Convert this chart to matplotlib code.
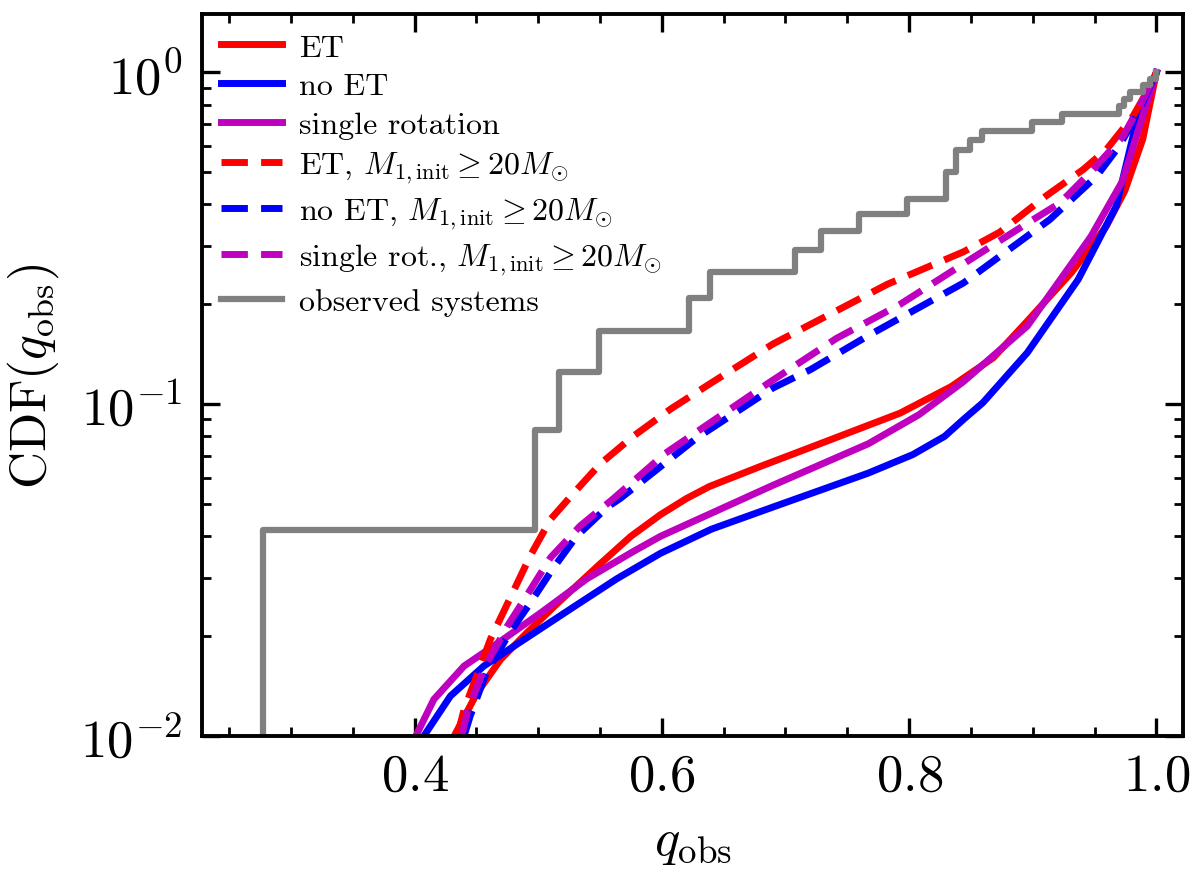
import numpy as np
import matplotlib
matplotlib.use('Agg')
import matplotlib.pyplot as plt
from matplotlib.ticker import MultipleLocator

plt.rcParams['font.family'] = 'serif'
plt.rcParams['font.serif'] = ['cmr10']
plt.rcParams['mathtext.fontset'] = 'cm'
plt.rcParams['axes.formatter.use_mathtext'] = True

# model CDFs (q, CDF)
q_et = [0.432, 0.4506, 0.4695, 0.491, 0.515, 0.550, 0.575, 0.599, 0.62, 0.6385, 0.68,
        0.7156, 0.7927, 0.834, 0.868, 0.8956, 0.9315, 0.9595, 0.9745, 0.989, 1.0]
c_et = [0.0100, 0.0135, 0.0170, 0.0205, 0.0250, 0.0330, 0.040, 0.0465, 0.052, 0.0565, 0.065,
        0.073, 0.094, 0.113, 0.138, 0.178, 0.25, 0.344, 0.44, 0.63, 1.0]

q_noet = [0.4075, 0.429, 0.456, 0.491, 0.5287, 0.5637, 0.5987, 0.640, 0.690, 0.767, 0.803,
          0.8287, 0.844, 0.8596, 0.8956, 0.9367, 0.9675, 0.983, 1.0]
c_noet = [0.010, 0.0132, 0.01625, 0.0198, 0.0245, 0.0298, 0.0355, 0.042, 0.049, 0.062, 0.0705,
          0.080, 0.090, 0.101, 0.143, 0.2375, 0.395, 0.687, 1.0]

q_rot = [0.401, 0.4156, 0.440, 0.4695, 0.502, 0.5395, 0.577, 0.599, 0.690, 0.767,
         0.808, 0.844, 0.8956, 0.947, 0.9725, 0.988, 1.0]
c_rot = [0.010, 0.0129, 0.01625, 0.0193, 0.0235, 0.0298, 0.036, 0.040, 0.057, 0.076,
         0.093, 0.117, 0.172, 0.32, 0.47, 0.72, 1.0]

q_et20 = [0.4345, 0.440, 0.4614, 0.4776, 0.4937, 0.510, 0.5287, 0.550, 0.5767, 0.6076,
          0.6385, 0.690, 0.7825, 0.844, 0.8733, 0.911, 0.9406, 0.9595, 0.981, 0.9918, 1.0]
c_et20 = [0.010, 0.012, 0.0196, 0.0262, 0.035, 0.045, 0.054, 0.066, 0.080, 0.097,
          0.115, 0.152, 0.23, 0.288, 0.33, 0.425, 0.509, 0.585, 0.737, 0.867, 1.0]

q_noet20 = [0.440, 0.445, 0.458, 0.477, 0.493, 0.512, 0.531, 0.556, 0.5664, 0.628,
            0.690, 0.720, 0.767, 0.844, 0.9137, 0.9515, 0.970, 0.9864, 1.0]
c_noet20 = [0.010, 0.0115, 0.0155, 0.0205, 0.025, 0.032, 0.040, 0.049, 0.052, 0.079,
            0.112, 0.127, 0.161, 0.232, 0.36, 0.486, 0.60, 0.772, 1.0]

q_rot20 = [0.438, 0.4426, 0.456, 0.4749, 0.491, 0.510, 0.534, 0.561, 0.6025, 0.685,
           0.7413, 0.7927, 0.844, 0.895, 0.922, 0.9487, 0.973, 0.9864, 1.0]
c_rot20 = [0.010, 0.0118, 0.0159, 0.0214, 0.0266, 0.0345, 0.043, 0.052, 0.071, 0.115,
           0.158, 0.20, 0.265, 0.35, 0.404, 0.509, 0.642, 0.79, 1.0]

# observed mass ratios
q_observed = [0.277, 0.497, 0.517, 0.549, 0.622, 0.639, 0.708, 0.729, 0.7595, 0.798,
              0.8295, 0.8295, 0.838, 0.838, 0.849, 0.859, 0.899, 0.924, 0.970, 0.974,
              0.979, 0.989, 0.995, 1.0]

fig = plt.figure(figsize=(12, 8.78), dpi=100)
ax = fig.add_axes([0.1683, 0.1606, 0.8175, 0.8223])

lw = 5
dash = (3.8, 1.9)
ax.plot(q_et, c_et, color='r', lw=lw, label='ET')
ax.plot(q_noet, c_noet, color='b', lw=lw, label='no ET')
ax.plot(q_rot, c_rot, color='m', lw=lw, label='single rotation')
ax.plot(q_et20, c_et20, color='r', lw=lw, ls=(0, dash),
        label=r'ET, $M_{1,\mathrm{init}} \geq 20 M_{\odot}$')
ax.plot(q_noet20, c_noet20, color='b', lw=lw, ls=(0, dash),
        label=r'no ET, $M_{1,\mathrm{init}} \geq 20 M_{\odot}$')
ax.plot(q_rot20, c_rot20, color='m', lw=lw, ls=(0, dash),
        label=r'single rot., $M_{1,\mathrm{init}} \geq 20 M_{\odot}$')

qs = np.sort(q_observed)
cdf = np.arange(1, len(qs) + 1) / len(qs)
ax.step(np.r_[qs[0], qs], np.r_[1e-3, cdf], where='post', color='gray', lw=4.5,
        label='observed systems')

ax.set_yscale('log')
ax.set_xlim(0.228, 1.0215)
ax.set_ylim(0.01, 1.5)
ax.xaxis.set_major_locator(MultipleLocator(0.2))
ax.xaxis.set_minor_locator(MultipleLocator(0.05))

for s in ax.spines.values():
    s.set_linewidth(2.8)
ax.tick_params(which='both', direction='in', top=True, right=True)
ax.tick_params(which='major', length=13, width=2.4, labelsize=38)
ax.tick_params(axis='x', which='major', pad=12)
ax.tick_params(axis='y', which='major', pad=14)
ax.tick_params(which='minor', length=6.5, width=2.0)

ax.set_xlabel(r'$q_{\rm obs}$', fontsize=38, labelpad=14)
ax.set_ylabel(r'CDF($q_{\rm obs}$)', fontsize=37, labelpad=14)

ax.legend(loc='upper left', frameon=False, fontsize=23, handlelength=1.9,
          handletextpad=0.55, labelspacing=0.33, borderaxespad=0.2)

fig.savefig('out.png', dpi=100)
